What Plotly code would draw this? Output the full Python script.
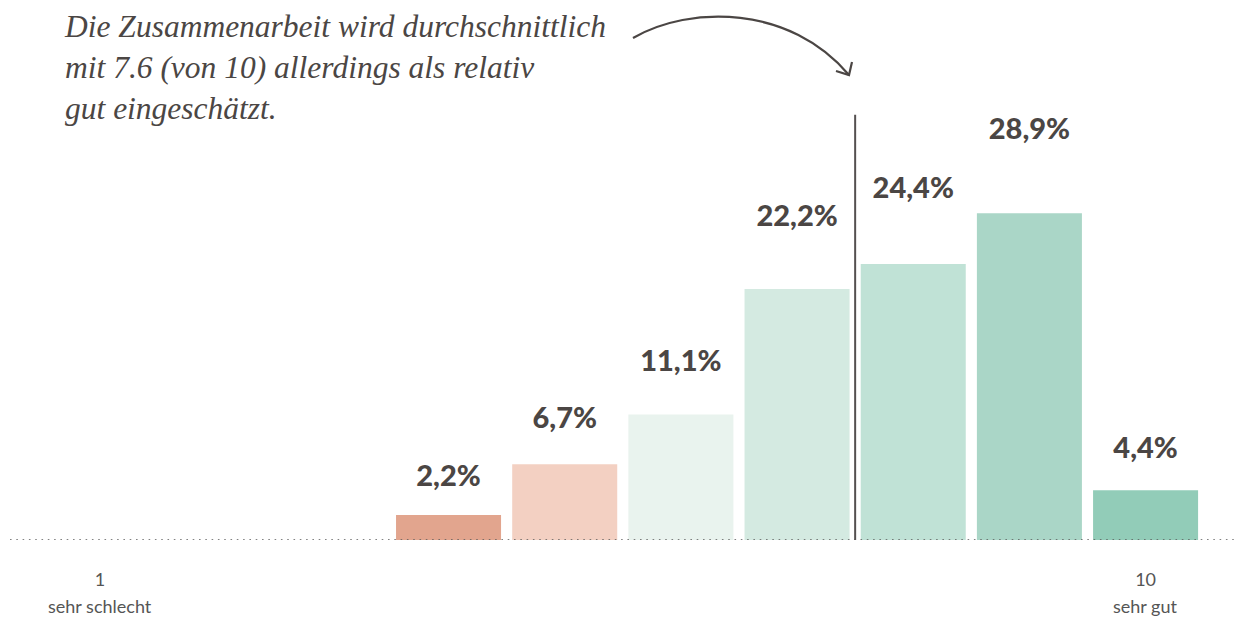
import plotly.graph_objects as go

# Bewertung der Zusammenarbeit, Skala 1 (sehr schlecht) bis 10 (sehr gut)
categories = [1, 2, 3, 4, 5, 6, 7, 8, 9, 10]
shares = [0, 0, 0, 2.2, 6.7, 11.1, 22.2, 24.4, 28.9, 4.4]
bar_colors = ["#e2a58e", "#e2a58e", "#e2a58e", "#e2a58e", "#f3d0c2",
              "#e9f3ee", "#d4eae1", "#c0e2d6", "#aad6c7", "#92ccb8"]
tick_vals = [1, 10]
tick_text = ["1", "10"]
scale_ends = ["sehr schlecht", "sehr gut"]
mean_score = 7.6
note_lines = ["Die Zusammenarbeit wird durchschnittlich",
              "mit 7.6 (von 10) allerdings als relativ",
              "gut eingeschätzt."]

W, H = 1247, 619
TEXT = "#4b4644"

label_x = [c for c, v in zip(categories, shares) if v > 0]
label_v = [v for v in shares if v > 0]
label_t = [f"{v:.1f}".replace(".", ",") + "%" for v in label_v]

fig = go.Figure()
fig.add_trace(go.Bar(
    x=categories, y=shares,
    marker=dict(color=bar_colors, line=dict(width=0)),
    hoverinfo="skip", showlegend=False,
))
# value labels sit on their own, more compressed scale
fig.add_trace(go.Scatter(
    x=label_x, y=label_v, yaxis="y2",
    mode="text", text=label_t, textposition="middle center",
    textfont=dict(family="Lato", size=29, color=TEXT, weight=900),
    hoverinfo="skip", showlegend=False,
))

# mean marker: left edge of the band that holds the average score
mean_x = round(mean_score) - 0.5
fig.add_shape(type="line", xref="x", yref="y",
              x0=mean_x, x1=mean_x, y0=-4.0, y1=37.6,
              line=dict(color="#555050", width=2), layer="above")

# dotted baseline across the full width
fig.add_shape(type="line", xref="paper", yref="y",
              x0=10 / W, x1=1237 / W, y0=0, y1=0,
              line=dict(color="#5a5a5a", width=1.6, dash="1.6px,4.7px"),
              layer="above")

# curved arrow from the note towards the mean line (paper coordinates)
def px(x):
    return x / W

def py(y):
    return (540 - y) / 540

arc = (f"M {px(633)},{py(38)} C {px(690)},{py(5)} {px(790)},{py(5)} "
       f"{px(849)},{py(75)}")
head = (f"M {px(852)},{py(62)} L {px(849)},{py(75)} L {px(836)},{py(71)}")
for path in (arc, head):
    fig.add_shape(type="path", xref="paper", yref="paper", path=path,
                  line=dict(color="#4b4644", width=2.2))

fig.add_annotation(
    xref="paper", yref="paper", x=62 / W, y=1.0, yshift=-7,
    xanchor="left", yanchor="top", align="left", showarrow=False,
    text="<br>".join(note_lines),
    font=dict(family="Liberation Serif", size=31.5, color=TEXT, style="italic"),
)

for xv, lab in zip(tick_vals, scale_ends):
    fig.add_annotation(
        xref="x", yref="paper", x=xv, y=py(606), yanchor="middle",
        showarrow=False, text=lab,
        font=dict(family="Lato", size=18, color="#555"),
    )

fig.update_layout(
    width=W, height=H,
    margin=dict(l=0, r=0, t=0, b=79),
    paper_bgcolor="white", plot_bgcolor="white",
    bargap=0.096,
    xaxis=dict(range=[0.139, 10.873], tickvals=tick_vals, ticktext=tick_text,
               showgrid=False, zeroline=False, showline=False, ticks="",
               ticklabelstandoff=27,
               tickfont=dict(family="Lato", size=18, color="#555")),
    yaxis=dict(range=[0, 540 / 11.31], visible=False, showgrid=False),
    yaxis2=dict(range=[-2.49, 39.05], overlaying="y", visible=False),
)

fig.write_html("out.html")
